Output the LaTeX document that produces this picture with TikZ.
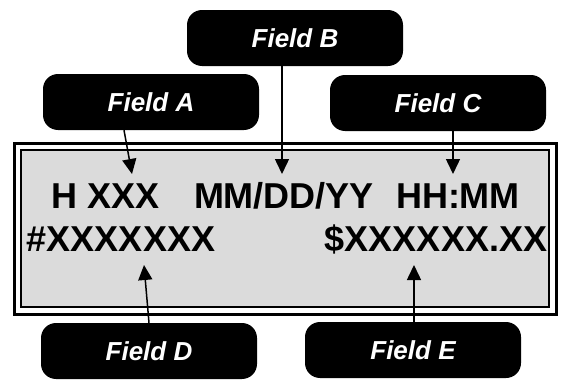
\documentclass[tikz,border=0pt]{standalone}
\usepackage{fontspec}
\setmainfont{Liberation Sans}
\usetikzlibrary{arrows.meta}

\begin{document}
\begin{tikzpicture}[x=1pt,y=-1pt]
  \tikzset{field/.style = {shape=rectangle,rounded corners=15pt,fill=black,text=white,
      font=\fontsize{26}{26}\selectfont\bfseries\itshape,minimum width=216pt,minimum height=56pt}}
  \tikzset{lcd/.style = {inner sep=0pt,font=\fontsize{36}{36}\selectfont\bfseries}}
  \tikzset{edge/.style = {-{Triangle[length=15pt,width=14pt]},line width=1.5pt}}

  \useasboundingbox (0,0) rectangle (566,380);

  % display
  \draw[line width=3pt,fill=white] (14,143) rectangle (556,314);
  \draw[line width=1.5pt,fill=black!14] (21,150) rectangle (549,307);

  \node[lcd] (hx) at (106,196) {H XXX};
  \node[lcd] (date) at (284,196) {MM/DD/YY};
  \node[lcd] (time) at (458,196) {HH:MM};
  \node[lcd] (num) at (121,239) {\#XXXXXXX};
  \node[lcd] (amt) at (436,239) {\$XXXXXX.XX};

  % labels
  \node[field] (fa) at (151,102) {Field A};
  \node[field] (fb) at (295,38) {Field B};
  \node[field] (fc) at (438,103) {Field C};
  \node[field] (fd) at (149,351) {Field D};
  \node[field] (fe) at (413,350) {Field E};

  \coordinate (ta) at (132,174);
  \coordinate (tb) at (282,174);
  \coordinate (tc) at (453,174);
  \coordinate (td) at (144,265);
  \coordinate (te) at (414,265);

  \draw[edge] ([xshift=-27pt]fa.south) -- (ta);
  \draw[edge] ([xshift=-13pt]fb.south) -- (tb);
  \draw[edge] ([xshift=15pt]fc.south) -- (tc);
  \draw[edge] (fd.north) -- (td);
  \draw[edge] ([xshift=1pt]fe.north) -- (te);
\end{tikzpicture}
\end{document}
